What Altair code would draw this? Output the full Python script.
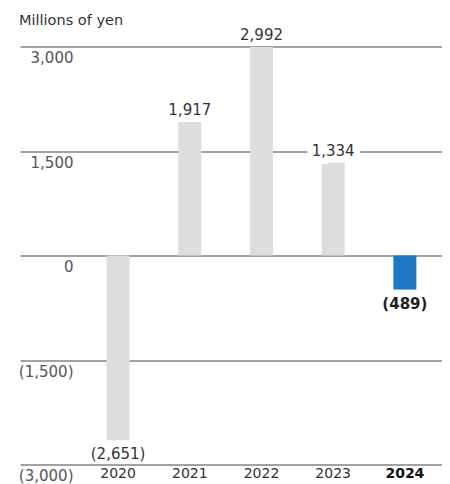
import altair as alt
import pandas as pd

years = ["2020", "2021", "2022", "2023", "2024"]
values = [-2651, 1917, 2992, 1334, -489]
y_ticks = [-3000, -1500, 0, 1500, 3000]
highlight = "2024"
unit_title = "Millions of yen"

df = pd.DataFrame({"year": years, "value": values})

FONT = "DejaVu Sans"
FS = 15
fmt = "datum.value < 0 ? '(' + format(-datum.value, ',') + ')' : format(datum.value, ',')"
is_hl = f"datum.year == '{highlight}'"

x = alt.X(
    "year:N",
    sort=years,
    scale=alt.Scale(paddingInner=0, paddingOuter=0.443, align=0.98),
    axis=alt.Axis(
        title=None, domain=False, ticks=False, labelPadding=2, labelAngle=0,
        labelFont=FONT, labelFontSize=14,
        labelColor={"condition": {"test": f"datum.value == '{highlight}'", "value": "#111"}, "value": "#333"},
        labelFontWeight={"condition": {"test": f"datum.value == '{highlight}'", "value": "bold"}, "value": "normal"},
    ),
)
y = alt.Y(
    "value:Q",
    scale=alt.Scale(domain=[-3000, 3000], nice=False, zero=False),
    axis=alt.Axis(
        title=None, values=y_ticks, grid=True, gridColor="#444", gridWidth=1,
        domain=False, ticks=False, tickSize=0, labelPadding=-53, labelAlign="right",
        labelBaseline="alphabetic", labelOffset=16, labelExpr=fmt,
        labelFont=FONT, labelFontSize=FS, labelColor="#555",
        labelOverlap=False, labelFlush=False,
    ),
)

base = alt.Chart(df)

bars = base.mark_bar(width=23).encode(
    x=x,
    y=y,
    color=alt.condition(alt.datum.year == highlight, alt.value("#2277c2"), alt.value("#dcdddf")),
)

lab = base.transform_calculate(label=fmt)
xe = alt.X("year:N", sort=years)

halo = lab.transform_filter("datum.year == '2023'").mark_text(
    baseline="alphabetic", dy=-7, font=FONT, fontSize=FS, stroke="white", strokeWidth=12, color="white"
).encode(x=xe, y="value:Q", text="label:N")

pos = lab.transform_filter("datum.value >= 0").mark_text(
    baseline="alphabetic", dy=-7, font=FONT, fontSize=FS, color="#333"
).encode(x=xe, y="value:Q", text="label:N")

neg = lab.transform_filter(f"datum.value < 0 && !({is_hl})").mark_text(
    baseline="alphabetic", dy=19, font=FONT, fontSize=FS, color="#333"
).encode(x=xe, y="value:Q", text="label:N")

neg_hl = lab.transform_filter(f"datum.value < 0 && ({is_hl})").mark_text(
    baseline="alphabetic", dy=19, font=FONT, fontSize=FS, fontWeight="bold", color="#222"
).encode(x=xe, y="value:Q", text="label:N")

title = alt.Chart(pd.DataFrame({"t": [unit_title]})).mark_text(
    align="left", baseline="alphabetic", font=FONT, fontSize=14.5, color="#333"
).encode(x=alt.value(-1), y=alt.value(-22), text="t:N")

chart = alt.layer(bars, halo, pos, neg, neg_hl, title).properties(
    width=422,
    height=418,
    autosize=alt.AutoSizeParams(type="none"),
    padding={"left": 12, "top": 38.5, "right": 0, "bottom": 20},
).configure_view(stroke=None)

chart.save("out.html", embed_options={"renderer": "svg", "actions": False})
